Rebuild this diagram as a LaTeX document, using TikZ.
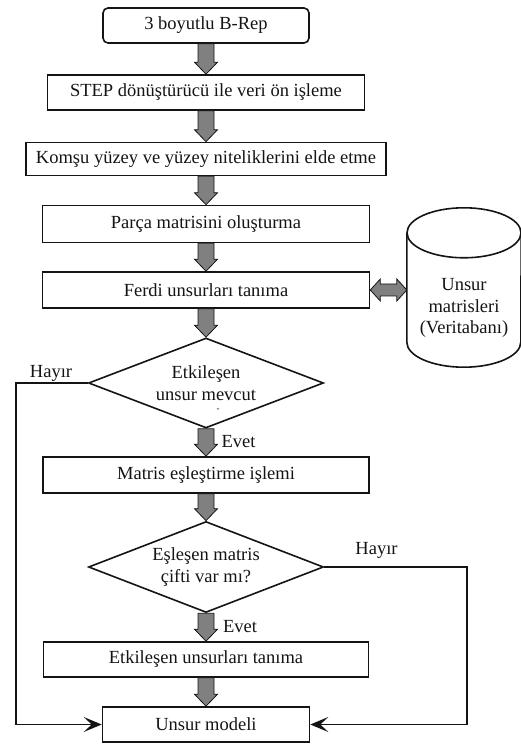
\documentclass[tikz,border=0pt]{standalone}
\usepackage{fontspec}
\setmainfont{Liberation Serif}
\definecolor{ink}{RGB}{20,20,20}
\definecolor{arrowfill}{RGB}{128,128,128}
\usetikzlibrary{arrows.meta,shapes.geometric,calc}

% thick grey arrow pointing down, from one node to the next
\newcommand{\blockdown}[2]{%
  \draw[blockarrow] let \p1=(#1.south), \p2=(#2.north) in
    (\x1-8pt,\y1) -- (\x1-8pt,\y2+12pt) -- (\x1-11.5pt,\y2+12pt) -- (\x1,\y2)
    -- (\x1+11.5pt,\y2+12pt) -- (\x1+8pt,\y2+12pt) -- (\x1+8pt,\y1) -- cycle;}
% thick grey arrow with two heads, left to right
\newcommand{\blockboth}[2]{%
  \draw[blockarrow] let \p1=(#1.east), \p2=(#2.west) in
    (\x1,\y1) -- (\x1+10pt,\y1+11pt) -- (\x1+10pt,\y1+6pt) -- (\x2-10pt,\y1+6pt)
    -- (\x2-10pt,\y1+11pt) -- (\x2,\y1) -- (\x2-10pt,\y1-11pt) -- (\x2-10pt,\y1-6pt)
    -- (\x1+10pt,\y1-6pt) -- (\x1+10pt,\y1-11pt) -- cycle;}

\begin{document}
\begin{tikzpicture}[x=1pt, y=1pt,
    txt/.style={font=\fontsize{18.5}{21.5}\selectfont, text=ink},
    procbox/.style={txt, draw=ink, line width=1.6pt, minimum height=35pt, inner sep=0pt},
    startbox/.style={procbox, rounded corners=5pt},
    decision/.style={txt, diamond, draw=ink, line width=1.6pt, aspect=2.6, inner sep=0pt,
      minimum width=235pt, minimum height=90pt, align=center},
    blockarrow/.style={draw=ink, line width=0.8pt, fill=arrowfill},
    flowline/.style={draw=ink, line width=1.4pt, -{Stealth[length=18pt,width=15pt,inset=8pt]}}]
  \useasboundingbox (0,0) rectangle (521,744);

  % main chain
  \node[startbox, minimum width=206pt] (brep) at (206,718.5) {3 boyutlu B-Rep};
  \node[procbox, minimum width=317pt] (step) at (206,651.5) {STEP dönüştürücü ile veri ön işleme};
  \node[procbox, minimum width=360pt, minimum height=33pt] (komsu) at (206,585) {Komşu yüzey ve yüzey niteliklerini elde etme};
  \node[procbox, minimum width=327pt, minimum height=37pt] (parca) at (206,520) {Parça matrisini oluşturma};
  \node[procbox, minimum width=327pt, minimum height=36pt] (ferdi) at (206,454) {Ferdi unsurları tanıma};
  \node[decision] (etkq) at (206,361) {Etkileşen\\unsur mevcut};
  \node[txt, font=\fontsize{9}{10}\selectfont, inner sep=0pt] (dash) at (218,334) {-};
  \node[procbox, minimum width=326pt, minimum height=36pt] (matris) at (206,269) {Matris eşleştirme işlemi};
  \node[decision, minimum height=91pt] (esq) at (206,177) {Eşleşen matris\\çifti var mı?};
  \node[procbox, minimum width=325pt] (etkbox) at (206,84.5) {Etkileşen unsurları tanıma};
  \node[procbox, minimum width=207pt] (model) at (206,19.5) {Unsur modeli};

  % database
  \node[minimum width=114pt, minimum height=109pt, inner sep=0pt] (db) at (464,456.5) {};
  \draw[draw=ink, line width=1.6pt] (db.north west) -- (db.south west)
    arc[start angle=180, end angle=360, x radius=57pt, y radius=25pt] -- (db.north east);
  \draw[draw=ink, line width=1.6pt] (db.north) ellipse[x radius=57pt, y radius=25pt];
  \node[txt, align=center, inner sep=0pt] (dbtext) at (464,436) {Unsur\\matrisleri\\(Veritabanı)};

  \foreach \a/\b in {brep/step, step/komsu, komsu/parca, parca/ferdi, ferdi/etkq,
                     etkq/matris, matris/esq, esq/etkbox, etkbox/model}
    \blockdown{\a}{\b};
  \blockboth{ferdi}{db};

  % side branches
  \coordinate (lft) at (16,0);
  \coordinate (rgt) at (467,0);
  \draw[flowline] (etkq.west) -- (etkq.west -| lft) |- (model.west);
  \draw[flowline] (esq.east) -- (esq.east -| rgt) |- (model.east);

  \node[txt] (hayir1) at (51,371) {Hayır};
  \node[txt] (hayir2) at (376.5,194) {Hayır};
  \node[txt] (evet1) at (238.5,302) {Evet};
  \node[txt] (evet2) at (240,117) {Evet};
\end{tikzpicture}
\end{document}
